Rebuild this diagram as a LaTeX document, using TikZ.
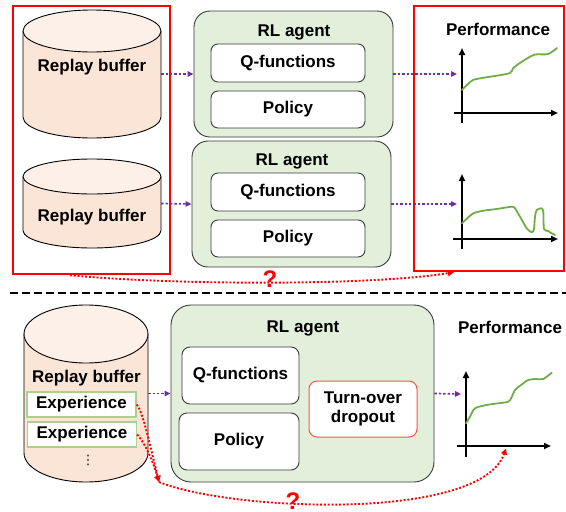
\documentclass[tikz,border=0pt]{standalone}
\usepackage{fontspec}
\setmainfont{Liberation Sans}
\newfontfamily\symfont{DejaVu Sans}
\usetikzlibrary{arrows.meta,calc}

\definecolor{bufbody}{HTML}{FBE5D6}
\definecolor{buftop}{HTML}{FDF0E8}
\definecolor{agentfill}{HTML}{E2EFDA}
\definecolor{edgegray}{HTML}{3A3A3A}
\definecolor{flowpurple}{HTML}{7030A0}
\definecolor{curvegreen}{HTML}{70AD47}
\definecolor{expgreen}{HTML}{A9D18E}
\definecolor{todred}{HTML}{FF5050}
\definecolor{alertred}{HTML}{FF0000}

\newcommand\lblfont{\fontsize{17}{19}\selectfont\bfseries}

% replay-buffer drum: #1 name, #2 left x, #3 right x, #4 top y, #5 bottom y, #6 end-ellipse radius
\newcommand\bufdrum[6]{%
  \pgfmathsetmacro\drumcx{(#2+#3)/2}%
  \pgfmathsetmacro\drumrx{(#3-#2)/2}%
  \pgfmathsetmacro\drumw{#3-#2}%
  \pgfmathsetmacro\drumh{#5-#4}%
  \pgfmathsetmacro\drumcy{(#4+#5)/2}%
  \fill[bufbody] (#2,#4+#6) -- (#2,#5-#6)
    arc[start angle=180,end angle=360,x radius=\drumrx pt,y radius=#6 pt]
    -- (#3,#4+#6) -- cycle;
  \draw[drumline] (#2,#4+#6) -- (#2,#5-#6)
    arc[start angle=180,end angle=360,x radius=\drumrx pt,y radius=#6 pt]
    -- (#3,#4+#6);
  \draw[drumline,fill=buftop] (\drumcx,#4+#6) ellipse[x radius=\drumrx pt,y radius=#6 pt];
  \node[inner sep=0pt,minimum width=\drumw pt,minimum height=\drumh pt] (#1) at (\drumcx,\drumcy) {};%
}

\begin{document}
\begin{tikzpicture}[x=1pt,y=-1pt,
  drumline/.style={draw=black,line width=0.9pt},
  agentbox/.style={draw=edgegray,fill=agentfill,rounded corners=16pt,line width=0.9pt,inner sep=0pt},
  modbox/.style={draw=edgegray,fill=white,rounded corners=7pt,line width=0.9pt,font=\lblfont,inner sep=0pt},
  expbox/.style={draw=expgreen,fill=white,line width=1.4pt,font=\lblfont,inner sep=0pt,
    minimum width=109pt,minimum height=25pt},
  todbox/.style={draw=todred,fill=white,rounded corners=8pt,line width=1pt,font=\lblfont,
    align=center,inner sep=0pt},
  redframe/.style={draw=alertred,line width=2.4pt,inner sep=0pt},
  lbl/.style={font=\lblfont,anchor=base},
  qmark/.style={font=\fontsize{24}{24}\selectfont\bfseries,text=alertred},
  flow/.style={draw=flowpurple,line width=1.7pt,dash pattern=on 2.4pt off 2pt,
    -{Triangle[length=6pt,width=5.5pt]}},
  link/.style={draw=alertred,line width=1.9pt,dash pattern=on 2pt off 1.8pt,
    -{Triangle[length=6pt,width=6pt]}},
  axis/.style={draw=black,line width=2pt,-{Triangle[length=7pt,width=6pt]}},
  perf/.style={draw=curvegreen,line width=1.8pt,line join=round,line cap=round},
  sepline/.style={draw=black,line width=2.4pt,dash pattern=on 8pt off 4pt}]

\useasboundingbox (0,0) rectangle (566,512);

% ---------------- upper half: two independent buffers ----------------
\node[redframe,minimum width=157pt,minimum height=268pt] (setL) at (91.5,140) {};
\node[redframe,minimum width=150pt,minimum height=265pt] (setR) at (489,138.5) {};

\bufdrum{buf1}{23}{161}{10}{138}{21}
\bufdrum{buf2}{23}{161}{159}{248}{17.5}
\node[lbl] at (92,71) {Replay buffer};
\node[lbl] at (92,221) {Replay buffer};

\node[agentbox,minimum width=199pt,minimum height=126pt] (ag1) at (293.5,74) {};
\node[lbl] at (294,36) {RL agent};
\node[modbox,minimum width=154pt,minimum height=38pt] (q1) at (288,63) {Q-functions};
\node[modbox,minimum width=154pt,minimum height=37pt] (p1) at (288,109.5) {Policy};

\node[agentbox,minimum width=199pt,minimum height=126pt] (ag2) at (291.5,204) {};
\node[lbl] at (292,165.3) {RL agent};
\node[modbox,minimum width=154pt,minimum height=38pt] (q2) at (288,192) {Q-functions};
\node[modbox,minimum width=154pt,minimum height=37pt] (p2) at (288,238.5) {Policy};

\node[lbl] at (498,35.7) {Performance};

% learning curve of the first agent
\draw[axis] (462,123) -- (462,48);
\draw[axis] (454,113) -- (558,113);
\draw[perf] plot[smooth,tension=0.5] coordinates {(462,90) (467,85) (473,80) (485,77.5) (498,75.5) (510,73)
  (513,68.5) (517,65) (527,58.5) (535,54.5) (548,54) (557,48)};
\coordinate (pin1) at (457,74);

% learning curve of the second agent (collapse)
\draw[axis] (462,249) -- (462,174);
\draw[axis] (453,239) -- (558,239);
\draw[perf] plot[smooth,tension=0.45] coordinates {(462,223.3) (467.3,218.3) (473.3,213.3) (483.3,210.7)
  (496.7,209) (511.7,206.7) (515,208.3) (520,216.7) (526.7,228.3) (531.7,232.3) (534,229)
  (535,216.7) (536.7,210) (541.7,208.3) (543.3,212) (544,229) (548.3,231) (550,232.3) (555,235)};
\coordinate (pin2) at (457,204);

\draw[flow] (buf1.east) -- (ag1.west);
\draw[flow] (ag1.east) -- (pin1);
\draw[flow] (buf2.east) -- (ag2.west);
\draw[flow] (ag2.east) -- (pin2);

\coordinate (qsrc) at ($(setL.south west)!0.365!(setL.south east)$);
\coordinate (qdst) at ($(setR.south west)!0.27!(setR.south east)$);
\draw[link] (qsrc) .. controls (170,285) and (370,286) .. (qdst);
\node[qmark] at (270,279) {?};

% ---------------- separator ----------------
\draw[sepline] (10,293) -- (566,293);

% ---------------- lower half: turn-over dropout ----------------
\bufdrum{buf3}{24}{148}{305}{482}{29}
\node[lbl] at (86.5,382.3) {Replay buffer};
\node[expbox] (exp1) at (81.5,404.5) {Experience};
\node[expbox] (exp2) at (82,434.5) {Experience};
\node[inner sep=0pt] at (88,460) {\fontsize{13}{13}\selectfont\symfont ⋮};

\node[agentbox,rounded corners=20pt,minimum width=263pt,minimum height=177pt] (ag3) at (302.5,393.5) {};
\node[lbl] at (303,332.3) {RL agent};
\node[modbox,rounded corners=8pt,minimum width=117pt,minimum height=57pt] (q3) at (240.5,375.5) {Q-functions};
\node[modbox,rounded corners=8pt,minimum width=120pt,minimum height=57pt] (p3) at (239,441.5) {Policy};
\node[todbox,minimum width=108pt,minimum height=56pt] (tod) at (363,409) {Turn-over\\dropout};

\node[lbl] at (510,333.3) {Performance};
\draw[axis] (466,457) -- (466,371);
\draw[axis] (457,446) -- (551,446);
\draw[perf] plot[smooth,tension=0.5] coordinates {(466,423.3) (470,416.7) (475,408.3) (486.7,405)
  (498,403.3) (508.3,401.7) (511.5,397.5) (515,390) (521,385) (528.3,380) (536,379) (543.3,379)
  (551.7,372.7)};
\coordinate (pin3) at (461,394);
\coordinate (tgt) at (506,448.5);

\draw[flow] (buf3.east) -- (ag3.west);
\draw[flow] (ag3.east) -- (pin3);

\coordinate (jn) at (159,482);
\draw[link] (exp1.east) .. controls (143,412) and (150,445) .. (jn);
\draw[link] (exp2.east) .. controls (144,442) and (152,458) .. (jn);
\draw[link] (jn) .. controls (230,511) and (480,522) .. (tgt);
\node[qmark] at (293,501) {?};

\end{tikzpicture}
\end{document}
